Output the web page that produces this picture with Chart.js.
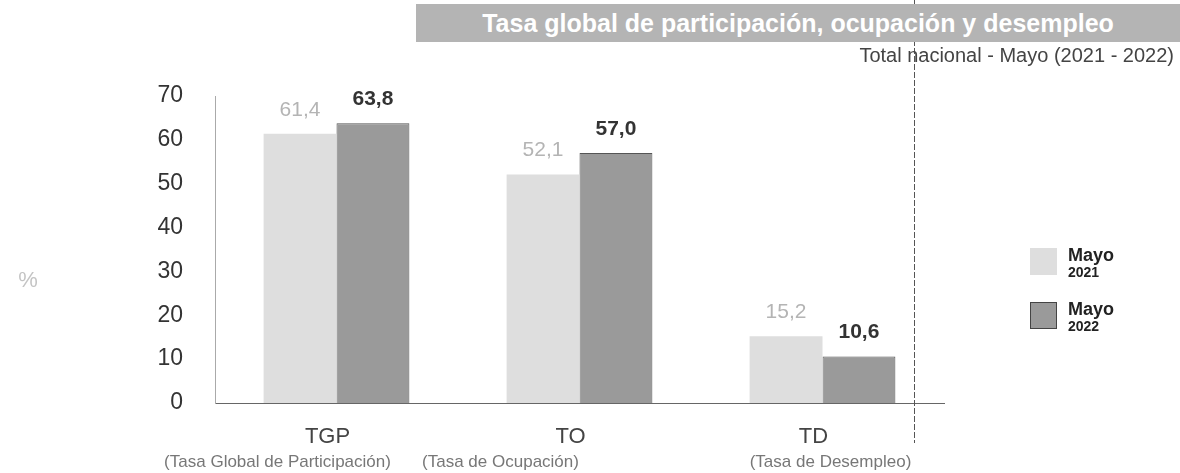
<!DOCTYPE html>
<html>
<head>
<meta charset="utf-8">
<script src="https://cdn.jsdelivr.net/npm/chart.js@4"></script>
<style>
  body { margin: 0; background: #fff; font-family: "Liberation Sans", Arial, sans-serif; }
  #wrap { position: relative; width: 1180px; height: 473px; overflow: hidden; }
  #titleBar { position: absolute; left: 416px; top: 4px; width: 764px; height: 38px; background: #b4b4b4;
    color: #fff; font-weight: bold; font-size: 25px; line-height: 38px; text-align: center; white-space: nowrap; }
  #subtitle { position: absolute; right: 6px; top: 44px; font-size: 20px; color: #444; white-space: nowrap; }
  #ytitle { position: absolute; left: 10px; top: 252px; width: 36px; height: 56px; color: #c4c4c4;
    font-size: 22px; line-height: 56px; text-align: center; }
  .leg { position: absolute; left: 1030px; font-weight: bold; color: #222; }
  .leg .box { position: absolute; left: 0; width: 27px; height: 27px; }
  .leg .t1 { position: absolute; left: 38px; top: -3px; font-size: 18px; }
  .leg .t2 { position: absolute; left: 38px; top: 16px; font-size: 14px; }
</style>
</head>
<body>
<div id="wrap">
  <canvas id="myChart" width="1180" height="473"></canvas>
  <div id="titleBar">Tasa global de participación, ocupación y desempleo</div>
  <div id="subtitle">Total nacional - Mayo (2021 - 2022)</div>
  <div id="ytitle">%</div>
  <div class="leg" style="top:248px"><div class="box" style="background:#dedede"></div><span class="t1">Mayo</span><span class="t2">2021</span></div>
  <div class="leg" style="top:302px"><div class="box" style="background:#9a9a9a;border:1px solid #444;width:25px;height:25px"></div><span class="t1">Mayo</span><span class="t2">2022</span></div>
</div>
<script>
const categories = ['TGP', 'TO', 'TD'];
const subLabels = ['(Tasa Global de Participación)', '(Tasa de Ocupación)', '(Tasa de Desempleo)'];
const series2021 = [61.4, 52.1, 15.2];
const series2022 = [63.8, 57.0, 10.6];
const seriesNames = ['Mayo 2021', 'Mayo 2022'];
const yTicks = [0, 10, 20, 30, 40, 50, 60, 70];

// sub label horizontal shifts (px) relative to category center
const SUB_SHIFT = [-59, -79, 8];

const fmt = v => v.toFixed(1).replace('.', ',');

const valueLabels = {
  id: 'valueLabels',
  afterDatasetsDraw(chart) {
    const ctx = chart.ctx;
    ctx.save();
    ctx.textAlign = 'center';
    ctx.textBaseline = 'middle';
    chart.data.datasets.forEach((ds, i) => {
      const meta = chart.getDatasetMeta(i);
      meta.data.forEach((bar, j) => {
        ctx.font = (i == 1 ? 'bold ' : '') + '21px "Liberation Sans", Arial';
        ctx.fillStyle = i == 1 ? '#333' : '#b4b4b4';
        ctx.fillText(fmt(ds.data[j]), bar.x, bar.y - 24);
      });
    });
    ctx.restore();
  }
};

const catLabels = {
  id: 'catLabels',
  afterDraw(chart) {
    const ctx = chart.ctx;
    const x = chart.scales.x;
    const base = chart.chartArea.bottom;
    ctx.save();
    ctx.textAlign = 'center';
    ctx.textBaseline = 'middle';
    categories.forEach((c, i) => {
      const cx = x.getPixelForValue(i);
      ctx.font = '22px "Liberation Sans", Arial';
      ctx.fillStyle = '#444';
      ctx.fillText(c, cx - 9, base + 34);
      ctx.font = '17px "Liberation Sans", Arial';
      ctx.fillStyle = '#777';
      ctx.fillText(subLabels[i], cx + SUB_SHIFT[i], base + 59);
    });
    // scanner fold line
    ctx.strokeStyle = '#555';
    ctx.lineWidth = 1;
    ctx.setLineDash([6, 2]);
    ctx.beginPath();
    ctx.moveTo(chart.chartArea.right - 29.5, 0);
    ctx.lineTo(chart.chartArea.right - 29.5, base + 40);
    ctx.stroke();
    ctx.restore();
  }
};

const data = {
  labels: categories,
  datasets: [{
    label: seriesNames[0],
    backgroundColor: '#dedede',
    borderWidth: 0,
    data: series2021
  }, {
    label: seriesNames[1],
    backgroundColor: '#9a9a9a',
    borderColor: '#555',
    borderWidth: 1,
    data: series2022
  }]
};

const config = {
  type: 'bar',
  data: data,
  options: {
    responsive: false,
    animation: false,
    layout: { padding: { left: 115, right: 236, top: 96, bottom: 0 } },
    datasets: { bar: { categoryPercentage: 0.6, barPercentage: 1.0 } },
    scales: {
      x: {
        ticks: { display: false },
        grid: { display: false, drawTicks: false },
        border: { display: true, color: '#666', width: 1, dash: [3, 2] },
        afterFit: s => { s.height = 70; }
      },
      y: {
        min: 0,
        max: 70,
        afterBuildTicks: s => { s.ticks = yTicks.map(v => ({ value: v })); },
        ticks: {
          padding: 32,
          color: '#333',
          font: { size: 23, family: '"Liberation Sans", Arial' }
        },
        grid: { display: false, drawTicks: false },
        border: { display: true, color: '#aaa', width: 1, dash: [2, 5] },
        afterFit: s => { s.width = 100; }
      }
    },
    plugins: {
      legend: { display: false },
      tooltip: { enabled: false }
    }
  },
  plugins: [valueLabels, catLabels]
};

const myChart = new Chart(document.getElementById('myChart'), config);
</script>
</body>
</html>
